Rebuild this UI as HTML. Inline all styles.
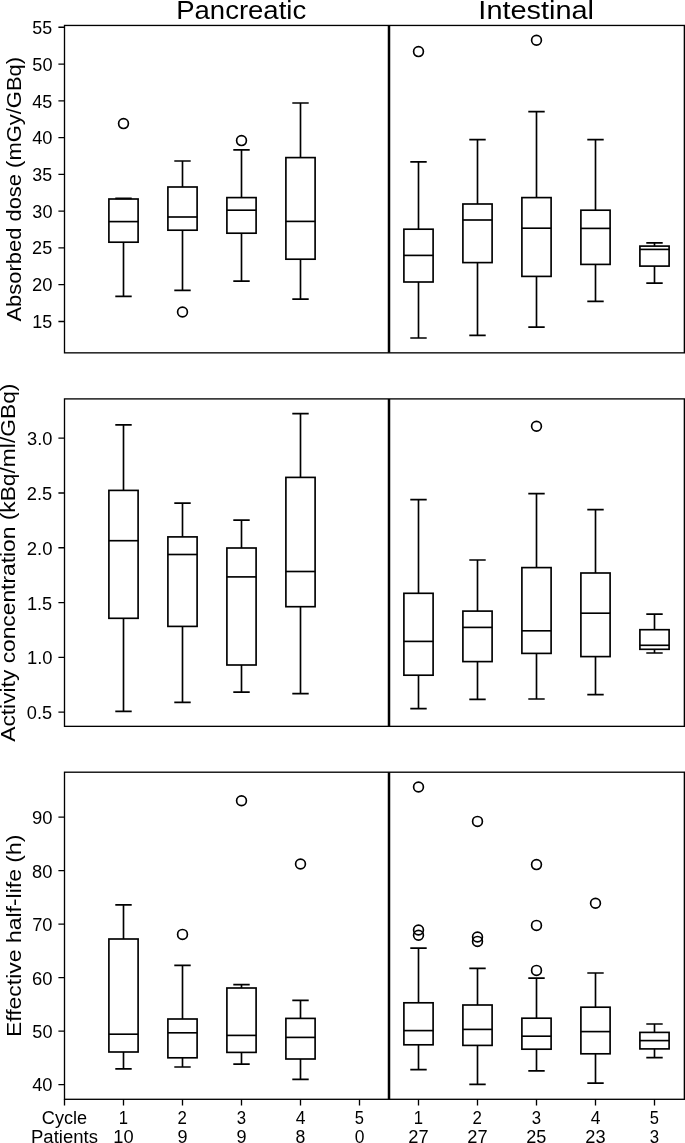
<!DOCTYPE html><html><head><meta charset="utf-8"><title>Boxplots</title><style>html,body{margin:0;padding:0;background:#fff;}svg{display:block;will-change:transform;}text{font-family:"Liberation Sans",sans-serif;fill:#000;}</style></head><body>
<svg width="685" height="1143" viewBox="0 0 685 1143">
<rect width="685" height="1143" fill="#fff"/>
<path d="M123.5 242.2V296.4M123.5 199V198.4" fill="none" stroke="#000" stroke-width="1.66"/>
<path d="M116.12 296.4H130.88M116.12 198.4H130.88" fill="none" stroke="#000" stroke-width="1.66" stroke-linecap="square"/>
<rect x="108.9" y="199" width="29.2" height="43.2" fill="none" stroke="#000" stroke-width="1.66"/>
<path d="M108.9 221.6H138.1" stroke="#000" stroke-width="1.66"/>
<circle cx="123.5" cy="123.6" r="4.90" fill="none" stroke="#000" stroke-width="1.66"/>
<path d="M182.5 230.2V290.4M182.5 187V161" fill="none" stroke="#000" stroke-width="1.66"/>
<path d="M175.12 290.4H189.88M175.12 161H189.88" fill="none" stroke="#000" stroke-width="1.66" stroke-linecap="square"/>
<rect x="167.9" y="187" width="29.2" height="43.2" fill="none" stroke="#000" stroke-width="1.66"/>
<path d="M167.9 217H197.1" stroke="#000" stroke-width="1.66"/>
<circle cx="182.5" cy="312" r="4.90" fill="none" stroke="#000" stroke-width="1.66"/>
<path d="M241.5 233.2V281.2M241.5 197.6V149.8" fill="none" stroke="#000" stroke-width="1.66"/>
<path d="M234.12 281.2H248.88M234.12 149.8H248.88" fill="none" stroke="#000" stroke-width="1.66" stroke-linecap="square"/>
<rect x="226.9" y="197.6" width="29.2" height="35.6" fill="none" stroke="#000" stroke-width="1.66"/>
<path d="M226.9 210.2H256.1" stroke="#000" stroke-width="1.66"/>
<circle cx="241.5" cy="140.6" r="4.90" fill="none" stroke="#000" stroke-width="1.66"/>
<path d="M300.5 259.2V299.2M300.5 157.6V103" fill="none" stroke="#000" stroke-width="1.66"/>
<path d="M293.12 299.2H307.88M293.12 103H307.88" fill="none" stroke="#000" stroke-width="1.66" stroke-linecap="square"/>
<rect x="285.9" y="157.6" width="29.2" height="101.6" fill="none" stroke="#000" stroke-width="1.66"/>
<path d="M285.9 221.4H315.1" stroke="#000" stroke-width="1.66"/>
<path d="M418.5 282V338M418.5 229.2V161.8" fill="none" stroke="#000" stroke-width="1.66"/>
<path d="M411.12 338H425.88M411.12 161.8H425.88" fill="none" stroke="#000" stroke-width="1.66" stroke-linecap="square"/>
<rect x="403.9" y="229.2" width="29.2" height="52.8" fill="none" stroke="#000" stroke-width="1.66"/>
<path d="M403.9 255.4H433.1" stroke="#000" stroke-width="1.66"/>
<circle cx="418.5" cy="51.6" r="4.90" fill="none" stroke="#000" stroke-width="1.66"/>
<path d="M477.5 262.6V335.4M477.5 204V139.6" fill="none" stroke="#000" stroke-width="1.66"/>
<path d="M470.12 335.4H484.88M470.12 139.6H484.88" fill="none" stroke="#000" stroke-width="1.66" stroke-linecap="square"/>
<rect x="462.9" y="204" width="29.2" height="58.6" fill="none" stroke="#000" stroke-width="1.66"/>
<path d="M462.9 220H492.1" stroke="#000" stroke-width="1.66"/>
<path d="M536.5 276.4V327.1M536.5 197.6V111.7" fill="none" stroke="#000" stroke-width="1.66"/>
<path d="M529.12 327.1H543.88M529.12 111.7H543.88" fill="none" stroke="#000" stroke-width="1.66" stroke-linecap="square"/>
<rect x="521.9" y="197.6" width="29.2" height="78.8" fill="none" stroke="#000" stroke-width="1.66"/>
<path d="M521.9 228.2H551.1" stroke="#000" stroke-width="1.66"/>
<circle cx="536.5" cy="40.3" r="4.90" fill="none" stroke="#000" stroke-width="1.66"/>
<path d="M595.5 264.4V301.3M595.5 210.2V139.6" fill="none" stroke="#000" stroke-width="1.66"/>
<path d="M588.12 301.3H602.88M588.12 139.6H602.88" fill="none" stroke="#000" stroke-width="1.66" stroke-linecap="square"/>
<rect x="580.9" y="210.2" width="29.2" height="54.2" fill="none" stroke="#000" stroke-width="1.66"/>
<path d="M580.9 228.4H610.1" stroke="#000" stroke-width="1.66"/>
<path d="M654.5 266.1V283.1M654.5 246.1V242.9" fill="none" stroke="#000" stroke-width="1.66"/>
<path d="M647.12 283.1H661.88M647.12 242.9H661.88" fill="none" stroke="#000" stroke-width="1.66" stroke-linecap="square"/>
<rect x="639.9" y="246.1" width="29.2" height="20" fill="none" stroke="#000" stroke-width="1.66"/>
<path d="M639.9 249.4H669.1" stroke="#000" stroke-width="1.66"/>
<path d="M389 25.45V352.85" stroke="#000" stroke-width="2.5"/>
<rect x="64.5" y="25.45" width="619.85" height="327.4" fill="none" stroke="#000" stroke-width="1.33"/>
<path d="M58.4 321.48H64.5M58.4 284.7H64.5M58.4 247.92H64.5M58.4 211.15H64.5M58.4 174.37H64.5M58.4 137.59H64.5M58.4 100.82H64.5M58.4 64.04H64.5M58.4 27.26H64.5" stroke="#000" stroke-width="1.33"/>
<text x="32.23" y="328" font-size="17.6" textLength="19.97" lengthAdjust="spacingAndGlyphs">15</text>
<text x="32.07" y="291" font-size="17.6" textLength="20.45" lengthAdjust="spacingAndGlyphs">20</text>
<text x="32.08" y="254" font-size="17.6" textLength="20.13" lengthAdjust="spacingAndGlyphs">25</text>
<text x="32.35" y="218" font-size="17.6" textLength="20.15" lengthAdjust="spacingAndGlyphs">30</text>
<text x="32.36" y="181" font-size="17.6" textLength="19.84" lengthAdjust="spacingAndGlyphs">35</text>
<text x="32.17" y="144" font-size="17.6" textLength="20.34" lengthAdjust="spacingAndGlyphs">40</text>
<text x="32.17" y="108" font-size="17.6" textLength="20.03" lengthAdjust="spacingAndGlyphs">45</text>
<text x="32.33" y="71" font-size="17.6" textLength="20.17" lengthAdjust="spacingAndGlyphs">50</text>
<text x="32.34" y="34" font-size="17.6" textLength="19.86" lengthAdjust="spacingAndGlyphs">55</text>
<text x="-321.57" y="20.8" font-size="21.09" textLength="264.6" lengthAdjust="spacingAndGlyphs" transform="rotate(-90)">Absorbed dose (mGy/GBq)</text>
<path d="M123.5 618.3V711.4M123.5 490.4V424.8" fill="none" stroke="#000" stroke-width="1.66"/>
<path d="M116.12 711.4H130.88M116.12 424.8H130.88" fill="none" stroke="#000" stroke-width="1.66" stroke-linecap="square"/>
<rect x="108.9" y="490.4" width="29.2" height="127.9" fill="none" stroke="#000" stroke-width="1.66"/>
<path d="M108.9 540.7H138.1" stroke="#000" stroke-width="1.66"/>
<path d="M182.5 626.4V702.4M182.5 536.9V503.2" fill="none" stroke="#000" stroke-width="1.66"/>
<path d="M175.12 702.4H189.88M175.12 503.2H189.88" fill="none" stroke="#000" stroke-width="1.66" stroke-linecap="square"/>
<rect x="167.9" y="536.9" width="29.2" height="89.5" fill="none" stroke="#000" stroke-width="1.66"/>
<path d="M167.9 554.5H197.1" stroke="#000" stroke-width="1.66"/>
<path d="M241.5 665V692.2M241.5 548V520.2" fill="none" stroke="#000" stroke-width="1.66"/>
<path d="M234.12 692.2H248.88M234.12 520.2H248.88" fill="none" stroke="#000" stroke-width="1.66" stroke-linecap="square"/>
<rect x="226.9" y="548" width="29.2" height="117" fill="none" stroke="#000" stroke-width="1.66"/>
<path d="M226.9 576.9H256.1" stroke="#000" stroke-width="1.66"/>
<path d="M300.5 606.7V693.6M300.5 477.4V413.6" fill="none" stroke="#000" stroke-width="1.66"/>
<path d="M293.12 693.6H307.88M293.12 413.6H307.88" fill="none" stroke="#000" stroke-width="1.66" stroke-linecap="square"/>
<rect x="285.9" y="477.4" width="29.2" height="129.3" fill="none" stroke="#000" stroke-width="1.66"/>
<path d="M285.9 571.5H315.1" stroke="#000" stroke-width="1.66"/>
<path d="M418.5 675.2V708.6M418.5 593.3V499.6" fill="none" stroke="#000" stroke-width="1.66"/>
<path d="M411.12 708.6H425.88M411.12 499.6H425.88" fill="none" stroke="#000" stroke-width="1.66" stroke-linecap="square"/>
<rect x="403.9" y="593.3" width="29.2" height="81.9" fill="none" stroke="#000" stroke-width="1.66"/>
<path d="M403.9 641.4H433.1" stroke="#000" stroke-width="1.66"/>
<path d="M477.5 661.6V699.4M477.5 611.1V560" fill="none" stroke="#000" stroke-width="1.66"/>
<path d="M470.12 699.4H484.88M470.12 560H484.88" fill="none" stroke="#000" stroke-width="1.66" stroke-linecap="square"/>
<rect x="462.9" y="611.1" width="29.2" height="50.5" fill="none" stroke="#000" stroke-width="1.66"/>
<path d="M462.9 627.4H492.1" stroke="#000" stroke-width="1.66"/>
<path d="M536.5 653.4V699M536.5 567.6V493.7" fill="none" stroke="#000" stroke-width="1.66"/>
<path d="M529.12 699H543.88M529.12 493.7H543.88" fill="none" stroke="#000" stroke-width="1.66" stroke-linecap="square"/>
<rect x="521.9" y="567.6" width="29.2" height="85.8" fill="none" stroke="#000" stroke-width="1.66"/>
<path d="M521.9 630.8H551.1" stroke="#000" stroke-width="1.66"/>
<circle cx="536.5" cy="426.2" r="4.90" fill="none" stroke="#000" stroke-width="1.66"/>
<path d="M595.5 656.6V694.6M595.5 573V509.6" fill="none" stroke="#000" stroke-width="1.66"/>
<path d="M588.12 694.6H602.88M588.12 509.6H602.88" fill="none" stroke="#000" stroke-width="1.66" stroke-linecap="square"/>
<rect x="580.9" y="573" width="29.2" height="83.6" fill="none" stroke="#000" stroke-width="1.66"/>
<path d="M580.9 613.2H610.1" stroke="#000" stroke-width="1.66"/>
<path d="M654.5 649.3V653M654.5 629.7V614.1" fill="none" stroke="#000" stroke-width="1.66"/>
<path d="M647.12 653H661.88M647.12 614.1H661.88" fill="none" stroke="#000" stroke-width="1.66" stroke-linecap="square"/>
<rect x="639.9" y="629.7" width="29.2" height="19.6" fill="none" stroke="#000" stroke-width="1.66"/>
<path d="M639.9 645.3H669.1" stroke="#000" stroke-width="1.66"/>
<path d="M389 398.9V726.35" stroke="#000" stroke-width="2.5"/>
<rect x="64.5" y="398.9" width="619.85" height="327.45" fill="none" stroke="#000" stroke-width="1.33"/>
<path d="M58.4 712.1H64.5M58.4 657.32H64.5M58.4 602.54H64.5M58.4 547.76H64.5M58.4 492.98H64.5M58.4 438.2H64.5" stroke="#000" stroke-width="1.33"/>
<text x="26.88" y="719" font-size="17.6" textLength="25.33" lengthAdjust="spacingAndGlyphs">0.5</text>
<text x="26.92" y="664" font-size="17.6" textLength="25.6" lengthAdjust="spacingAndGlyphs">1.0</text>
<text x="26.94" y="610" font-size="17.6" textLength="25.27" lengthAdjust="spacingAndGlyphs">1.5</text>
<text x="26.79" y="555" font-size="17.6" textLength="25.74" lengthAdjust="spacingAndGlyphs">2.0</text>
<text x="26.8" y="500" font-size="17.6" textLength="25.42" lengthAdjust="spacingAndGlyphs">2.5</text>
<text x="27.07" y="445" font-size="17.6" textLength="25.44" lengthAdjust="spacingAndGlyphs">3.0</text>
<text x="-741.82" y="14.9" font-size="21.09" textLength="358.2" lengthAdjust="spacingAndGlyphs" transform="rotate(-90)">Activity concentration (kBq/ml/GBq)</text>
<path d="M123.5 1052V1068.8M123.5 939V904.8" fill="none" stroke="#000" stroke-width="1.66"/>
<path d="M116.12 1068.8H130.88M116.12 904.8H130.88" fill="none" stroke="#000" stroke-width="1.66" stroke-linecap="square"/>
<rect x="108.9" y="939" width="29.2" height="113" fill="none" stroke="#000" stroke-width="1.66"/>
<path d="M108.9 1034.2H138.1" stroke="#000" stroke-width="1.66"/>
<path d="M182.5 1057.8V1067M182.5 1019V965.4" fill="none" stroke="#000" stroke-width="1.66"/>
<path d="M175.12 1067H189.88M175.12 965.4H189.88" fill="none" stroke="#000" stroke-width="1.66" stroke-linecap="square"/>
<rect x="167.9" y="1019" width="29.2" height="38.8" fill="none" stroke="#000" stroke-width="1.66"/>
<path d="M167.9 1032.8H197.1" stroke="#000" stroke-width="1.66"/>
<circle cx="182.5" cy="934.4" r="4.90" fill="none" stroke="#000" stroke-width="1.66"/>
<path d="M241.5 1052.4V1064.2M241.5 988V984.6" fill="none" stroke="#000" stroke-width="1.66"/>
<path d="M234.12 1064.2H248.88M234.12 984.6H248.88" fill="none" stroke="#000" stroke-width="1.66" stroke-linecap="square"/>
<rect x="226.9" y="988" width="29.2" height="64.4" fill="none" stroke="#000" stroke-width="1.66"/>
<path d="M226.9 1035.4H256.1" stroke="#000" stroke-width="1.66"/>
<circle cx="241.5" cy="800.8" r="4.90" fill="none" stroke="#000" stroke-width="1.66"/>
<path d="M300.5 1059V1079.4M300.5 1018.4V1000.4" fill="none" stroke="#000" stroke-width="1.66"/>
<path d="M293.12 1079.4H307.88M293.12 1000.4H307.88" fill="none" stroke="#000" stroke-width="1.66" stroke-linecap="square"/>
<rect x="285.9" y="1018.4" width="29.2" height="40.6" fill="none" stroke="#000" stroke-width="1.66"/>
<path d="M285.9 1037.4H315.1" stroke="#000" stroke-width="1.66"/>
<circle cx="300.5" cy="864" r="4.90" fill="none" stroke="#000" stroke-width="1.66"/>
<path d="M418.5 1044.8V1069.6M418.5 1002.8V948.1" fill="none" stroke="#000" stroke-width="1.66"/>
<path d="M411.12 1069.6H425.88M411.12 948.1H425.88" fill="none" stroke="#000" stroke-width="1.66" stroke-linecap="square"/>
<rect x="403.9" y="1002.8" width="29.2" height="42" fill="none" stroke="#000" stroke-width="1.66"/>
<path d="M403.9 1030.6H433.1" stroke="#000" stroke-width="1.66"/>
<circle cx="418.5" cy="787" r="4.90" fill="none" stroke="#000" stroke-width="1.66"/>
<circle cx="418.5" cy="930" r="4.90" fill="none" stroke="#000" stroke-width="1.66"/>
<circle cx="418.5" cy="935.2" r="4.90" fill="none" stroke="#000" stroke-width="1.66"/>
<path d="M477.5 1045.4V1084.4M477.5 1005V968.4" fill="none" stroke="#000" stroke-width="1.66"/>
<path d="M470.12 1084.4H484.88M470.12 968.4H484.88" fill="none" stroke="#000" stroke-width="1.66" stroke-linecap="square"/>
<rect x="462.9" y="1005" width="29.2" height="40.4" fill="none" stroke="#000" stroke-width="1.66"/>
<path d="M462.9 1029.4H492.1" stroke="#000" stroke-width="1.66"/>
<circle cx="477.5" cy="821.4" r="4.90" fill="none" stroke="#000" stroke-width="1.66"/>
<circle cx="477.5" cy="937" r="4.90" fill="none" stroke="#000" stroke-width="1.66"/>
<circle cx="477.5" cy="941.4" r="4.90" fill="none" stroke="#000" stroke-width="1.66"/>
<path d="M536.5 1049.2V1070.8M536.5 1018.2V978.2" fill="none" stroke="#000" stroke-width="1.66"/>
<path d="M529.12 1070.8H543.88M529.12 978.2H543.88" fill="none" stroke="#000" stroke-width="1.66" stroke-linecap="square"/>
<rect x="521.9" y="1018.2" width="29.2" height="31" fill="none" stroke="#000" stroke-width="1.66"/>
<path d="M521.9 1036.2H551.1" stroke="#000" stroke-width="1.66"/>
<circle cx="536.5" cy="864.6" r="4.90" fill="none" stroke="#000" stroke-width="1.66"/>
<circle cx="536.5" cy="925.4" r="4.90" fill="none" stroke="#000" stroke-width="1.66"/>
<circle cx="536.5" cy="970.4" r="4.90" fill="none" stroke="#000" stroke-width="1.66"/>
<path d="M595.5 1053.8V1083.2M595.5 1007.2V973" fill="none" stroke="#000" stroke-width="1.66"/>
<path d="M588.12 1083.2H602.88M588.12 973H602.88" fill="none" stroke="#000" stroke-width="1.66" stroke-linecap="square"/>
<rect x="580.9" y="1007.2" width="29.2" height="46.6" fill="none" stroke="#000" stroke-width="1.66"/>
<path d="M580.9 1031.6H610.1" stroke="#000" stroke-width="1.66"/>
<circle cx="595.5" cy="903.2" r="4.90" fill="none" stroke="#000" stroke-width="1.66"/>
<path d="M654.5 1048.9V1057.7M654.5 1032.4V1024" fill="none" stroke="#000" stroke-width="1.66"/>
<path d="M647.12 1057.7H661.88M647.12 1024H661.88" fill="none" stroke="#000" stroke-width="1.66" stroke-linecap="square"/>
<rect x="639.9" y="1032.4" width="29.2" height="16.5" fill="none" stroke="#000" stroke-width="1.66"/>
<path d="M639.9 1040.6H669.1" stroke="#000" stroke-width="1.66"/>
<path d="M389 772.2V1099.3" stroke="#000" stroke-width="2.5"/>
<rect x="64.5" y="772.2" width="619.85" height="327.1" fill="none" stroke="#000" stroke-width="1.33"/>
<path d="M58.4 1084.6H64.5M58.4 1031.12H64.5M58.4 977.64H64.5M58.4 924.16H64.5M58.4 870.68H64.5M58.4 817.2H64.5" stroke="#000" stroke-width="1.33"/>
<text x="32.17" y="1091" font-size="17.6" textLength="20.34" lengthAdjust="spacingAndGlyphs">40</text>
<text x="32.33" y="1038" font-size="17.6" textLength="20.17" lengthAdjust="spacingAndGlyphs">50</text>
<text x="32" y="985" font-size="17.6" textLength="20.52" lengthAdjust="spacingAndGlyphs">60</text>
<text x="32.2" y="931" font-size="17.6" textLength="20.31" lengthAdjust="spacingAndGlyphs">70</text>
<text x="32.11" y="878" font-size="17.6" textLength="20.41" lengthAdjust="spacingAndGlyphs">80</text>
<text x="31.96" y="824" font-size="17.6" textLength="20.56" lengthAdjust="spacingAndGlyphs">90</text>
<text x="-1037.05" y="20.8" font-size="21.09" textLength="202.38" lengthAdjust="spacingAndGlyphs" transform="rotate(-90)">Effective half-life (h)</text>
<text x="176.22" y="18.8" font-size="26.39" textLength="129.92" lengthAdjust="spacingAndGlyphs">Pancreatic</text>
<text x="478.37" y="18.8" font-size="26.39" textLength="115.64" lengthAdjust="spacingAndGlyphs">Intestinal</text>
<path d="M64.5 1099.3V1105.4M123.5 1099.3V1105.4M182.5 1099.3V1105.4M241.5 1099.3V1105.4M300.5 1099.3V1105.4M359.5 1099.3V1105.4M418.5 1099.3V1105.4M477.5 1099.3V1105.4M536.5 1099.3V1105.4M595.5 1099.3V1105.4M654.5 1099.3V1105.4" stroke="#000" stroke-width="1.33"/>
<text x="41.83" y="1124.3" font-size="17.6" textLength="45.27" lengthAdjust="spacingAndGlyphs">Cycle</text>
<text x="31.01" y="1142.8" font-size="17.6" textLength="66.94" lengthAdjust="spacingAndGlyphs">Patients</text>
<text x="118.77" y="1124.3" font-size="17.6" textLength="9.29" lengthAdjust="spacingAndGlyphs">1</text>
<text x="113.37" y="1142.8" font-size="17.6" textLength="20.3" lengthAdjust="spacingAndGlyphs">10</text>
<text x="177.59" y="1124.3" font-size="17.6" textLength="9.38" lengthAdjust="spacingAndGlyphs">2</text>
<text x="177.42" y="1142.8" font-size="17.6" textLength="10.05" lengthAdjust="spacingAndGlyphs">9</text>
<text x="236.84" y="1124.3" font-size="17.6" textLength="9.35" lengthAdjust="spacingAndGlyphs">3</text>
<text x="236.42" y="1142.8" font-size="17.6" textLength="10.05" lengthAdjust="spacingAndGlyphs">9</text>
<text x="295.63" y="1124.3" font-size="17.6" textLength="9.73" lengthAdjust="spacingAndGlyphs">4</text>
<text x="295.58" y="1142.8" font-size="17.6" textLength="9.84" lengthAdjust="spacingAndGlyphs">8</text>
<text x="354.84" y="1124.3" font-size="17.6" textLength="9.18" lengthAdjust="spacingAndGlyphs">5</text>
<text x="354.63" y="1142.8" font-size="17.6" textLength="9.73" lengthAdjust="spacingAndGlyphs">0</text>
<text x="413.77" y="1124.3" font-size="17.6" textLength="9.29" lengthAdjust="spacingAndGlyphs">1</text>
<text x="408.24" y="1142.8" font-size="17.6" textLength="20.33" lengthAdjust="spacingAndGlyphs">27</text>
<text x="472.59" y="1124.3" font-size="17.6" textLength="9.38" lengthAdjust="spacingAndGlyphs">2</text>
<text x="467.24" y="1142.8" font-size="17.6" textLength="20.33" lengthAdjust="spacingAndGlyphs">27</text>
<text x="531.84" y="1124.3" font-size="17.6" textLength="9.35" lengthAdjust="spacingAndGlyphs">3</text>
<text x="526.24" y="1142.8" font-size="17.6" textLength="20.13" lengthAdjust="spacingAndGlyphs">25</text>
<text x="590.63" y="1124.3" font-size="17.6" textLength="9.73" lengthAdjust="spacingAndGlyphs">4</text>
<text x="585.24" y="1142.8" font-size="17.6" textLength="20.3" lengthAdjust="spacingAndGlyphs">23</text>
<text x="649.84" y="1124.3" font-size="17.6" textLength="9.18" lengthAdjust="spacingAndGlyphs">5</text>
<text x="649.84" y="1142.8" font-size="17.6" textLength="9.35" lengthAdjust="spacingAndGlyphs">3</text>
</svg></body></html>
